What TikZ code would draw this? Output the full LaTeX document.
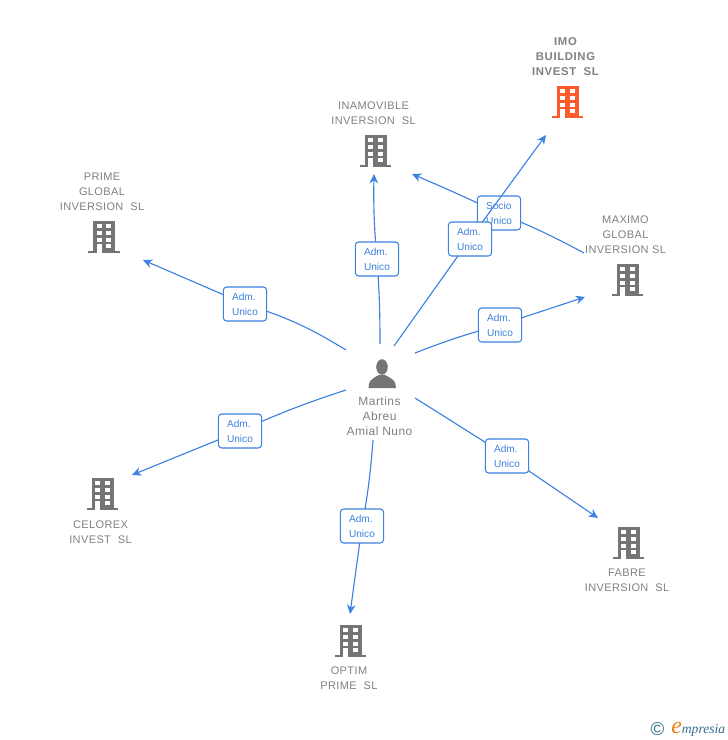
\documentclass[tikz,border=0pt]{standalone}
\usepackage{fontspec}
\setmainfont{Liberation Sans}
\newfontfamily\logofont{Liberation Serif}
\usetikzlibrary{arrows.meta}
\definecolor{linkblue}{HTML}{3C82E0}
\definecolor{bldggray}{HTML}{757575}
\definecolor{bldgred}{HTML}{FF5A2B}
\definecolor{labelgray}{HTML}{808080}
\definecolor{logoteal}{HTML}{2F6E8C}
\definecolor{logoorange}{HTML}{EE7F1A}
\tikzset{
  link/.style={linkblue,line width=0.85pt},
  linkend/.style={link,-{Stealth[length=7pt,width=6.5pt]}},
  role/.style={draw=linkblue,fill=white,rounded corners=2.5pt,line width=0.8pt,text=linkblue,
    minimum width=32.5pt,minimum height=25.5pt,inner sep=0pt,align=left,font=\fontsize{7.6}{11.2}\selectfont},
  title/.style={text=labelgray,align=center,inner sep=0pt,font=\fontsize{8.25}{11.2}\selectfont\addfontfeatures{LetterSpace=3.5}},
}
% building icon: name, centre of the body, colour
\newcommand{\building}[3]{
  \node[fill=#3,minimum width=16.5pt,minimum height=24pt,inner sep=0pt] (#1) at (#2) {};
  \fill[#3] ([xshift=-3.5pt]#1.south west) rectangle ([xshift=3.5pt,yshift=2pt]#1.south east);
  \foreach \wy in {2.8,7.8,12.8}{
    \fill[white] ([xshift=3pt,yshift=-\wy pt]#1.north west) rectangle +(3.6pt,-3pt);
    \fill[white] ([xshift=10.2pt,yshift=-\wy pt]#1.north west) rectangle +(3.6pt,-3pt);
  }
  \fill[white] ([xshift=3pt,yshift=-17.8pt]#1.north west) rectangle +(3.6pt,-6.2pt);
  \fill[white] ([xshift=10.2pt,yshift=-17.8pt]#1.north west) rectangle +(3.6pt,-3pt);
}
\begin{document}
\begin{tikzpicture}[x=0.75pt,y=-0.75pt]
  \useasboundingbox (0,0) rectangle (728,740);

  % buildings
  \building{imo}{567.5,102}{bldgred}
  \building{inamovible}{375.5,151}{bldggray}
  \building{prime}{104,237}{bldggray}
  \building{maximo}{627.5,280}{bldggray}
  \building{celorex}{102.5,494}{bldggray}
  \building{fabre}{628.5,543}{bldggray}
  \building{optim}{350.5,641}{bldggray}

  % titles
  \node[title,font=\fontsize{8.5}{11.2}\selectfont\bfseries\addfontfeatures{LetterSpace=5.5}] (imotitle) at (565.5,57) {IMO\\BUILDING\\INVEST\ \ SL};
  \node[title] (inamoviblet) at (373.5,113) {INAMOVIBLE\\INVERSION\ \ SL};
  \node[title] (primet) at (102,191.5) {PRIME\\GLOBAL\\INVERSION\ \ SL};
  \node[title] (maximot) at (625.5,234.5) {MAXIMO\\GLOBAL\\INVERSION SL};
  \node[title] (celorext) at (100.5,532) {CELOREX\\INVEST\ \ SL};
  \node[title] (fabret) at (627,580) {FABRE\\INVERSION\ \ SL};
  \node[title] (optimt) at (349,678) {OPTIM\\PRIME\ \ SL};

  % person
  \node[minimum width=21pt,minimum height=21pt,inner sep=0pt] (martins) at (382,374) {};
  \fill[bldggray] (382,367) ellipse (5.8 and 7.8);
  \fill[bldggray] (368.5,388) .. controls (368.5,381) and (371,379) .. (379,375) -- (385,375)
    .. controls (393,379) and (396,381) .. (396,388) -- cycle;
  \node[title,font=\fontsize{9}{11.2}\selectfont\addfontfeatures{LetterSpace=4}] (martinst) at (379.5,416) {Martins\\Abreu\\Amial Nuno};

  % free ends
  \coordinate (s1) at (346,350);  \coordinate (e1) at (143,260);
  \coordinate (s2) at (380,344);  \coordinate (e2) at (374,174);
  \coordinate (s3) at (394,346);  \coordinate (e3) at (546,135);
  \coordinate (s4) at (415,353);  \coordinate (e4) at (585,297);
  \coordinate (s5) at (584,253);  \coordinate (e5) at (412,174);
  \coordinate (s6) at (415,398);  \coordinate (e6) at (598,518);
  \coordinate (s7) at (373,440);  \coordinate (e7) at (350,614);
  \coordinate (s8) at (346,390);  \coordinate (e8) at (132,475);

  % socio box lies under the line to imo
  \draw[link] (s5) to[bend right=3] (499,213);
  \draw[linkend] (499,213) to[bend right=1] (e5);
  \node[role] (socio) at (499,213) {Socio\\Unico};

  \draw[link] (s3) -- (470,239);
  \draw[linkend] (470,239) -- (e3);
  \node[role] (admimo) at (470,239) {Adm.\\Unico};

  \draw[link] (s1) to[bend right=7] (245,304);
  \draw[linkend] (245,304) -- (e1);
  \node[role] (admprime) at (245,304) {Adm.\\Unico};

  \draw[link] (s2) to[bend right=2] (377,259);
  \draw[linkend] (377,259) to[bend left=3] (e2);
  \node[role] (adminam) at (377,259) {Adm.\\Unico};

  \draw[link] (s4) to[bend left=3] (500,325);
  \draw[linkend] (500,325) -- (e4);
  \node[role] (admmaximo) at (500,325) {Adm.\\Unico};

  \draw[link] (s6) -- (507,456);
  \draw[linkend] (507,456) -- (e6);
  \node[role] (admfabre) at (507,456) {Adm.\\Unico};

  \draw[link] (s7) to[bend left=3] (362,526);
  \draw[linkend] (362,526) -- (e7);
  \node[role] (admoptim) at (362,526) {Adm.\\Unico};

  \draw[link] (s8) to[bend right=3] (240,431);
  \draw[linkend] (240,431) -- (e8);
  \node[role] (admcelorex) at (240,431) {Adm.\\Unico};

  % logo
  \node[text=logoteal,inner sep=0pt,font=\fontsize{14}{14}\selectfont] (copyr) at (657.5,729) {©};
  \node[anchor=base west,inner sep=0pt,text=logoteal,font=\logofont\itshape\fontsize{10.2}{11}\selectfont] (logo) at (671,733)
    {\textcolor{logoorange}{\fontsize{18}{11}\selectfont e}mpresia};
\end{tikzpicture}
\end{document}
